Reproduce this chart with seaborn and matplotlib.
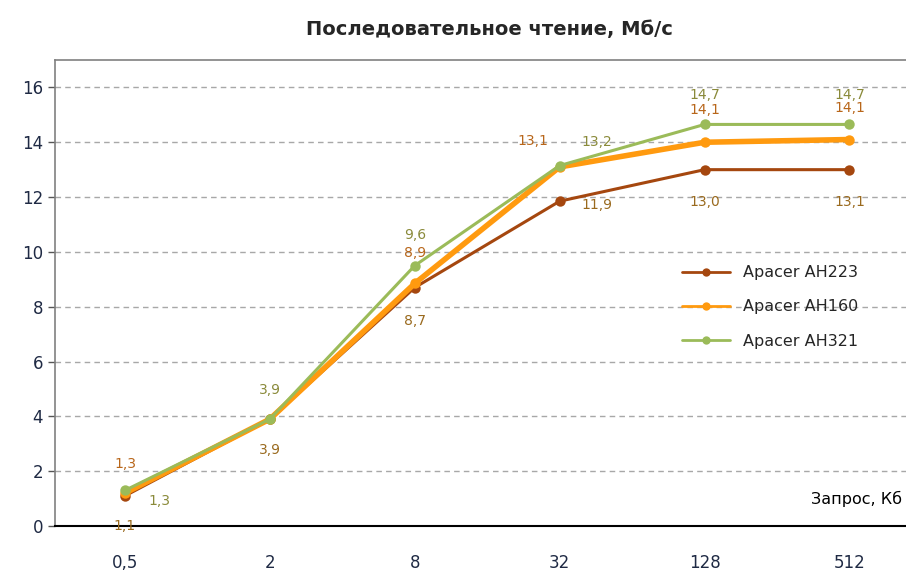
import numpy as np
import pandas as pd
import matplotlib
matplotlib.use("Agg")
import matplotlib.pyplot as plt
import seaborn as sns

# данные
requests = ["0,5", "2", "8", "32", "128", "512"]
ah223 = [1.1, 3.9, 8.7, 11.85, 13.0, 13.0]
ah160 = [1.2, 3.9, 8.85, 13.1, 14.0, 14.1]
ah321 = [1.3, 3.9, 9.5, 13.15, 14.65, 14.65]
labels_223 = ["1,1", "3,9", "8,7", "11,9", "13,0", "13,1"]
labels_160 = ["1,3", "", "8,9", "13,1", "14,1", "14,1"]
labels_321 = ["1,3", "3,9", "9,6", "13,2", "14,7", "14,7"]
series = ["Apacer AH223", "Apacer AH160", "Apacer AH321"]

colors = {"Apacer AH223": "#A5470F", "Apacer AH160": "#FF9A0F", "Apacer AH321": "#9BBB59"}
text_colors = {"Apacer AH223": "#9A6A1E", "Apacer AH160": "#B8661A", "Apacer AH321": "#8A8A3A"}
widths = {"Apacer AH223": 2.2, "Apacer AH160": 4.0, "Apacer AH321": 2.2}

x = np.arange(len(requests))
df = pd.DataFrame({
    "x": np.tile(x, 3),
    "value": ah223 + ah160 + ah321,
    "series": np.repeat(series, len(requests)),
})

sns.set_style("white")
plt.rcParams["font.family"] = ["DejaVu Sans"]

fig = plt.figure(figsize=(9.06, 5.76), dpi=100)
ax = fig.add_axes([0.0607, 0.0868, 0.9393, 0.809])

for name in series:
    sub = df[df["series"] == name]
    sns.lineplot(data=sub, x="x", y="value", ax=ax, color=colors[name],
                 lw=widths[name], marker="o", markersize=7.5, markeredgewidth=0,
                 label=name)

# подписи значений (смещения в пунктах)
offs_223 = [(0, -22), (0, -22), (0, -24), (27, -3), (0, -23), (0, -23)]
offs_160 = [(0, 21), (0, 0), (0, 22), (-19, 19), (0, 23), (0, 23)]
offs_321 = [(25, -8), (0, 21), (0, 22), (27, 17), (0, 21), (0, 21)]
for vals, labs, offs, name in [(ah223, labels_223, offs_223, series[0]),
                               (ah160, labels_160, offs_160, series[1]),
                               (ah321, labels_321, offs_321, series[2])]:
    for xi, v, lab, off in zip(x, vals, labs, offs):
        if lab:
            ax.annotate(lab, (xi, v), xytext=off, textcoords="offset points",
                        ha="center", va="center", fontsize=10,
                        color=text_colors[name])

ax.set_xlim(-0.483, 5.39)
ax.set_ylim(0, 17)
ax.set_yticks(range(0, 17, 2))
ax.set_xticks(x)
ax.set_xticklabels(requests)
ax.set_xticks(x[:-1] + 0.5, minor=True)
ax.tick_params(axis="x", which="major", length=0, pad=20, labelsize=12, labelcolor="#1F2A44")
ax.tick_params(axis="x", which="minor", length=6, width=1.2, direction="out", color="black")
ax.tick_params(axis="y", length=5, width=1, direction="out", labelsize=12,
               labelcolor="#1F2A44", color="#555555", left=True)
ax.grid(axis="y", linestyle=(0, (4, 3)), color="#A8A8A8", lw=1)
ax.set_xlabel("")
ax.set_ylabel("")

for s in ["left", "top"]:
    ax.spines[s].set_color("#808080")
    ax.spines[s].set_linewidth(1.2)
ax.spines["right"].set_visible(False)
ax.spines["bottom"].set_color("black")
ax.spines["bottom"].set_linewidth(1.5)

ax.annotate("Запрос, Кб", xy=(5.36, 1.0), ha="right", va="center",
            fontsize=11.5, color="black")

leg = ax.legend(loc="center left", bbox_to_anchor=(0.72, 0.47), frameon=False,
                fontsize=11.5, handlelength=3, labelspacing=1.2, markerscale=0.8)
for h in leg.get_lines():
    h.set_linewidth(2)

fig.text(0.54, 0.948, "Последовательное чтение, Мб/с", ha="center", va="center",
         fontsize=14, fontweight="bold")

fig.savefig("out.png", dpi=100)
